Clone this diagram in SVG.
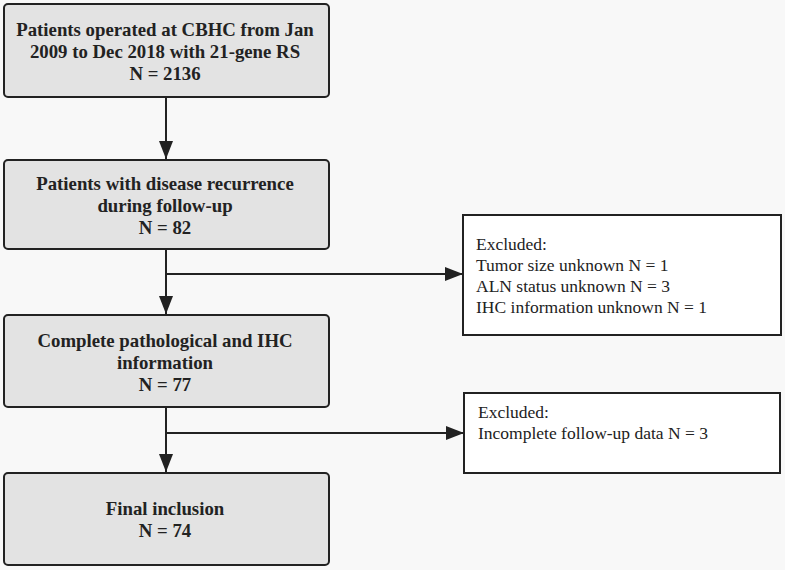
<svg xmlns="http://www.w3.org/2000/svg" width="785" height="570" viewBox="0 0 785 570">
<style>
.bg{fill:#f8f8f8}
.main rect{fill:#e3e3e3;stroke:#222;stroke-width:2}
.excl rect{fill:#ffffff;stroke:#222;stroke-width:2}
.main text{font-family:"Liberation Serif",serif;font-weight:bold;font-size:18.8px;fill:#222;text-anchor:middle}
.excl text{font-family:"Liberation Serif",serif;font-size:17.5px;fill:#222}
.conn line{stroke:#222;stroke-width:2;fill:none}
</style>
<defs>
<marker id="ahr" markerWidth="18" markerHeight="14" refX="18" refY="7" orient="auto" markerUnits="userSpaceOnUse">
<path d="M0,0 L18,7 L0,14 Z" fill="#222"/>
</marker>
</defs>
<rect class="bg" x="0" y="0" width="785" height="570"/>
<g class="conn">
<line x1="166" y1="97" x2="166" y2="159" marker-end="url(#ahr)"/>
<line x1="166" y1="249" x2="166" y2="314" marker-end="url(#ahr)"/>
<line x1="166" y1="274" x2="463" y2="274" marker-end="url(#ahr)"/>
<line x1="166" y1="407" x2="166" y2="472" marker-end="url(#ahr)"/>
<line x1="166" y1="433" x2="464" y2="433" marker-end="url(#ahr)"/>
</g>
<g id="n1" class="main">
<rect x="4" y="4" width="325" height="93" rx="4"/>
<text x="165" y="36">Patients operated at CBHC from Jan</text>
<text x="165" y="58">2009 to Dec 2018 with 21-gene RS</text>
<text x="165" y="80">N = 2136</text>
</g>
<g id="n2" class="main">
<rect x="4" y="160" width="325" height="89" rx="4"/>
<text x="165" y="190">Patients with disease recurrence</text>
<text x="165" y="212">during follow-up</text>
<text x="165" y="234">N = 82</text>
</g>
<g id="n3" class="main">
<rect x="4" y="315" width="325" height="92" rx="4"/>
<text x="165" y="347">Complete pathological and IHC</text>
<text x="165" y="369">information</text>
<text x="165" y="391">N = 77</text>
</g>
<g id="n4" class="main">
<rect x="4" y="473" width="325" height="92" rx="4"/>
<text x="165" y="515">Final inclusion</text>
<text x="165" y="537">N = 74</text>
</g>
<g id="e1" class="excl">
<rect x="463" y="215" width="318" height="120"/>
<text x="476" y="250">Excluded:</text>
<text x="476" y="271">Tumor size unknown N = 1</text>
<text x="476" y="292">ALN status unknown N = 3</text>
<text x="476" y="313">IHC information unknown N = 1</text>
</g>
<g id="e2" class="excl">
<rect x="464" y="393" width="316" height="80"/>
<text x="478" y="418">Excluded:</text>
<text x="478" y="439">Incomplete follow-up data N = 3</text>
</g>
</svg>
